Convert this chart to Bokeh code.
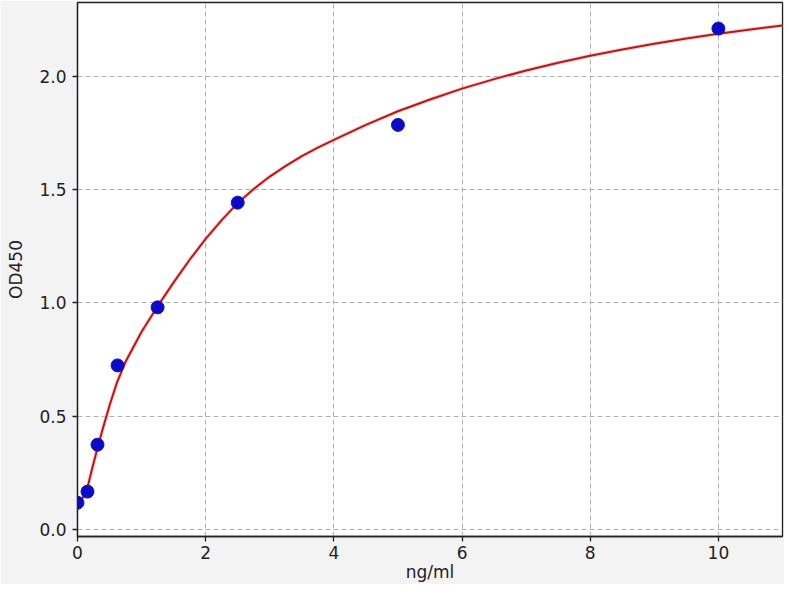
from bokeh.plotting import figure
from bokeh.models import Range1d, FixedTicker
from bokeh.embed import file_html
from bokeh.resources import INLINE

# Standard points
conc = [0.0, 0.156, 0.312, 0.625, 1.25, 2.5, 5.0, 10.0]
od450 = [0.118, 0.167, 0.374, 0.724, 0.98, 1.442, 1.785, 2.21]

# Fitted curve
curve_x = [0.0, 0.08, 0.156, 0.23, 0.312, 0.4, 0.5, 0.615, 0.75, 1.0, 1.25, 1.5, 1.75,
           2.0, 2.25, 2.5, 2.75, 3.0, 3.25, 3.5, 3.75, 4.0, 4.5, 5.0, 5.5, 6.0, 6.5, 7.0, 7.5,
           8.0, 8.5, 9.0, 9.5, 10.0, 10.5, 11.0]
curve_y = [0.11, 0.14, 0.185, 0.27, 0.36, 0.45, 0.547, 0.648, 0.74, 0.872, 0.985, 1.09, 1.19,
           1.282, 1.365, 1.44, 1.502, 1.557, 1.604, 1.647, 1.685, 1.719, 1.785, 1.845, 1.897, 1.945,
           1.987, 2.025, 2.059, 2.09, 2.118, 2.143, 2.166, 2.187, 2.206, 2.224]

x_ticks = [0, 2, 4, 6, 8, 10]
y_ticks = [0.0, 0.5, 1.0, 1.5, 2.0]

p = figure(width=784, height=584, output_backend="svg", toolbar_location=None,
           x_range=Range1d(0, 11), y_range=Range1d(-0.031, 2.325),
           min_border_left=77, min_border_right=2, min_border_top=2, min_border_bottom=45)

p.background_fill_color = "white"
p.border_fill_color = "#f3f3f3"
p.outline_line_color = "#222222"
p.outline_line_width = 1.3

font = "DejaVu Sans"
for ax in (p.xaxis[0], p.yaxis[0]):
    ax.axis_line_color = "#222222"
    ax.axis_line_width = 1.3
    ax.major_tick_line_color = "#222222"
    ax.major_tick_line_width = 1.3
    ax.major_tick_out = 5
    ax.major_tick_in = 0
    ax.minor_tick_line_color = None
    ax.major_label_text_font = font
    ax.major_label_text_font_size = "17px"
    ax.major_label_text_color = "#222222"
    ax.axis_label_text_font = font
    ax.axis_label_text_font_size = "17px"
    ax.axis_label_text_font_style = "normal"
    ax.axis_label_text_color = "#222222"

p.xaxis.ticker = FixedTicker(ticks=x_ticks)
p.yaxis.ticker = FixedTicker(ticks=y_ticks)
p.yaxis.major_label_overrides = {t: f"{t:.1f}" for t in y_ticks}
p.xaxis.axis_label = "ng/ml"
p.yaxis.axis_label = "OD450"
p.xaxis.major_label_standoff = 4
p.yaxis.major_label_standoff = 6
p.xaxis.axis_label_standoff = 0
p.yaxis.axis_label_standoff = 10

p.grid.grid_line_color = "#b0b0b0"
p.grid.grid_line_dash = "5 3"
p.grid.grid_line_width = 1

p.line(curve_x, curve_y, line_color="#ffb0b0", line_width=4, line_alpha=0.6)
p.line(curve_x, curve_y, line_color="#b01c1c", line_width=2)
p.scatter(conc, od450, size=13, fill_color="#0a0ac8", line_color="#1a1a9a")

open("out.html", "w").write(file_html(p, INLINE))
